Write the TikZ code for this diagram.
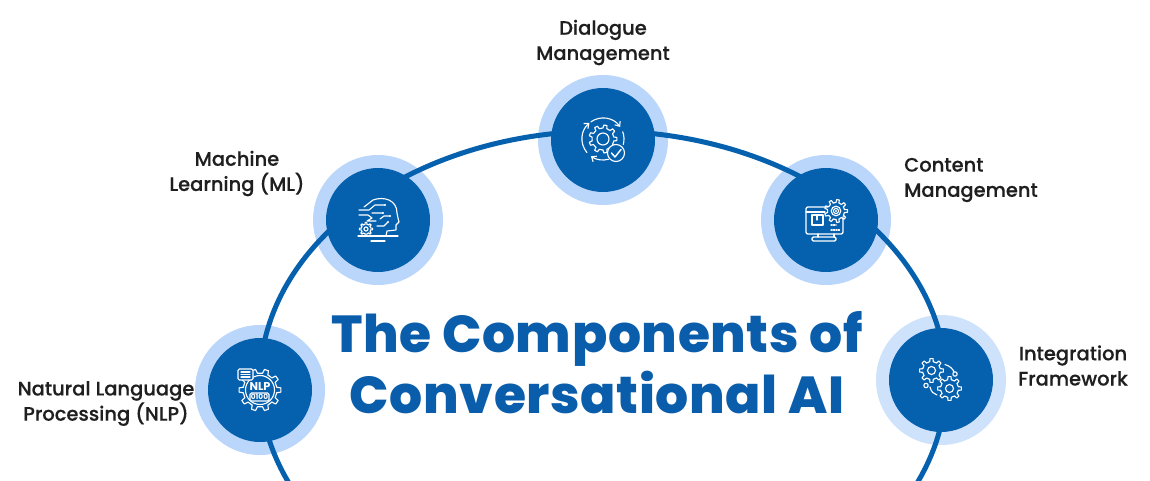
\documentclass[tikz,border=0pt]{standalone}
\usepackage{fontspec}
\usetikzlibrary{arrows.meta}
\setmainfont{Poppins}
\newfontfamily\labelfont[FakeBold=0.25]{Poppins Medium}
\newfontfamily\titlefont[LetterSpace=1.2]{Poppins ExtraBold}
\definecolor{dark}{HTML}{0560AE}
\definecolor{halo}{HTML}{BBD6FB}
\definecolor{halotwo}{HTML}{CFE2FB}
\definecolor{titleblue}{HTML}{0A5DAB}
\tikzset{
  x=0.75pt,y=0.75pt,
  halonode/.style={circle,fill=halo,draw=none,minimum size=97.5pt,inner sep=0pt},
  corenode/.style={circle,fill=dark,draw=none,minimum size=78pt,inner sep=0pt},
  lab/.style={font=\labelfont\fontsize{14.6pt}{18.9pt}\selectfont,text=black!88,align=center,inner sep=0pt},
  titletext/.style={font=\titlefont\fontsize{39pt}{45.8pt}\selectfont,text=titleblue,align=center,inner sep=0pt},
  ring/.style={draw=dark,line width=3.75pt},
  ico/.style={draw=white,line width=0.85pt,line cap=round,line join=round},
}
% gear centred at the current origin: #1 outer radius, #2 root radius, #3 hole radius, #4 teeth
\newcommand{\gearicon}[4]{%
  \pgfmathsetmacro{\gstep}{360/#4}%
  \pgfmathsetmacro{\gw}{\gstep*0.26}%
  \pgfmathsetmacro{\gv}{\gstep*0.16}%
  \fill[dark] (0,0) circle [radius=#2];
  \foreach \ga in {1,...,#4}{%
    \pgfmathsetmacro{\gb}{\ga*\gstep}%
    \draw[ico] ({(\gb-\gw)}:#2) -- ({(\gb-\gv)}:#1) -- ({(\gb+\gv)}:#1) -- ({(\gb+\gw)}:#2) -- ({(\gb+\gstep-\gw)}:#2);
  }
  \draw[ico] (0,0) circle [radius=#3];
}
\begin{document}
\begin{tikzpicture}
\useasboundingbox (0,0) rectangle (1150,480);
\fill[white] (0,0) rectangle (1150,480);
\clip (0,0) rectangle (1150,480);
\coordinate (hub) at (603,98);
% halos
\node[halonode] (dlgH) at (603,340) {};
\node[halonode] (mlH) at (378,260) {};
\node[halonode] (cmH) at (826,260) {};
\node[halonode] (nlpH) at (260,90) {};
\node[halonode,fill=halotwo] (intH) at (941,100) {};
% ring
\draw[ring] (hub) ellipse [x radius=343,y radius=251];
% cores
\node[corenode] (dlg) at (dlgH) {};
\node[corenode] (ml) at (mlH) {};
\node[corenode] (cm) at (cmH) {};
\node[corenode] (nlp) at (nlpH) {};
\node[corenode] (int) at (intH) {};
% dialogue icon
\begin{scope}[shift={(603,341)}]
  \gearicon{14}{11}{6}{9}
  \draw[ico,-{Straight Barb[length=3pt,width=5pt]}] (125:21) arc [start angle=125,end angle=35,radius=21];
  \draw[ico,-{Straight Barb[length=3pt,width=5pt]}] (-140:21) arc [start angle=220,end angle=130,radius=21];
  \draw[ico,-{Straight Barb[length=3pt,width=5pt]}] (-75:21) arc [start angle=-75,end angle=-125,radius=21];
  \draw[ico] (20:21) arc [start angle=20,end angle=-15,radius=21];
  \filldraw[ico,fill=dark] (13,-14) circle [radius=8.5];
  \draw[ico,line width=1.1pt] (8.5,-14) -- (12,-18) -- (18,-10.5);
\end{scope}
% ML icon
\begin{scope}[shift={(378,260)}]
  \draw[ico] (-14,13) -- (-5,20) .. controls (6,24) and (19,20) .. (19,7) -- (20,2) -- (21,-2) -- (18,-5) -- (18,-10) -- (9,-11) -- (8,-16);
  \draw[ico] (-19,10) -- (-9,10) -- (-3,15) -- (7,15);
  \draw[ico] (-19,5) -- (-10,5) -- (-6,2) -- (-11,-1) -- (-2,-1);
  \draw[ico] (-6,7) -- (5,7) (-1,-6) -- (6,-6) -- (10,-2) (2,1) -- (6,4) -- (12,4);
  \foreach \p in {(7,15),(5,7),(10,-2),(12,4)} \fill[white] \p circle [radius=1.2];
  \begin{scope}[shift={(-12,-9)}]\gearicon{6.5}{4.8}{2}{8}\end{scope}
  \draw[ico] (-20,-16) -- (20,-16) (-7,-21) -- (7,-21);
\end{scope}
% content icon
\begin{scope}[shift={(826,260)}]
  \draw[ico,line width=1pt,rounded corners=1.5pt] (-20,13) rectangle (17,-14);
  \draw[ico] (-20,8) -- (-1,8) (-14,5) rectangle (-3,-5) (-9,5) -- (-9,0);
  \draw[ico,line width=1pt] (-8,-14) -- (-8,-17) (8,-14) -- (8,-17);
  \draw[ico,line width=1pt,rounded corners=1pt] (-14,-17) rectangle (10,-21);
  \draw[ico,densely dotted,line width=1pt] (5,-10) -- (14,-10) (5,-5) -- (10,-5);
  \begin{scope}[shift={(10,9)}]\gearicon{11.5}{8.5}{4.8}{9}\fill[white] (0,0) circle [radius=1.2];\draw[ico] (0,0) circle [radius=2.6];\end{scope}
\end{scope}
% NLP icon
\begin{scope}[shift={(260,90)}]
  \gearicon{21}{17}{14.5}{10}
  \filldraw[ico,fill=dark,rounded corners=1pt] (-22,21) rectangle (-7,10);
  \draw[ico] (-19,18) -- (-10,18) (-19,15.5) -- (-10,15.5) (-19,13) -- (-10,13);
  \node[inner sep=0pt,text=white,font=\fontsize{8.5pt}{9pt}\bfseries\selectfont] (nlpword) at (0,3) {NLP};
  \filldraw[ico,fill=dark,rounded corners=1pt] (-10,-3) rectangle (9,-11);
  \node[inner sep=0pt,text=white,font=\fontsize{5.5pt}{6pt}\bfseries\selectfont] (nlpbits) at (-0.5,-7) {0100};
\end{scope}
% integration icon
\begin{scope}[shift={(941,100)}]
  \begin{scope}[shift={(-9.5,9.5)}]\gearicon{12}{9}{4}{8}\end{scope}
  \begin{scope}[shift={(8.5,-8.5)}]\gearicon{12}{9}{4}{8}\end{scope}
  \draw[ico] (4,15.5) .. controls (9,14) and (12,11) .. (13,8);
  \draw[ico] (14,6) circle [radius=2.2];
  \draw[ico] (-11,-7) .. controls (-10,-12) and (-7,-14) .. (-4,-15);
  \draw[ico] (-15,-5.5) circle [radius=2.2];
\end{scope}
% labels
\node[lab] (tdlg) at (603,437.5) {Dialogue\\Management};
\node[lab] (tml) at (237,306.5) {Machine\\Learning (ML)};
\node[lab,align=left,anchor=west] (tcm) at (904,300) {Content\\Management};
\node[lab] (tint) at (1073,114.5) {Integration\\Framework};
\node[lab] (tnlp) at (106,76.5) {Natural Language\\Processing (NLP)};
\node[titletext] (title) at (597,117) {The Components of\\Conversational AI};
\end{tikzpicture}
\end{document}
